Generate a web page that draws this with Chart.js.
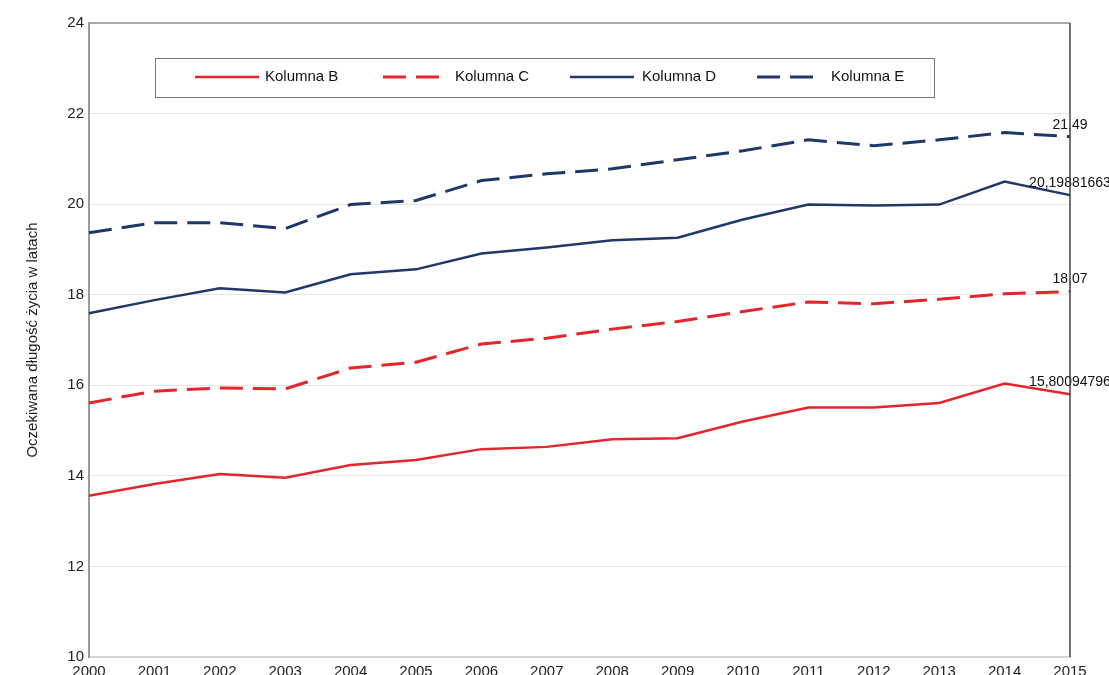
<!DOCTYPE html>
<html>
<head>
<meta charset="utf-8">
<script src="https://cdn.jsdelivr.net/npm/chart.js@4"></script>
<style>
  body { margin:0; background:#fff; }
  #wrap { width:1109px; height:675px; position:relative; }
</style>
</head>
<body>
<div id="wrap"><canvas id="lifeChart"></canvas></div>
<script>
// ─── data ───────────────────────────────────────────────────────────────────
const YEARS = ['2000','2001','2002','2003','2004','2005','2006','2007','2008','2009','2010','2011','2012','2013','2014','2015'];
const KOLUMNA_B = [13.56,13.82,14.04,13.96,14.24,14.35,14.59,14.64,14.81,14.83,15.20,15.51,15.51,15.61,16.04,15.80094796];
const KOLUMNA_C = [15.61,15.87,15.94,15.92,16.38,16.51,16.91,17.04,17.24,17.41,17.63,17.84,17.80,17.90,18.02,18.07];
const KOLUMNA_D = [17.59,17.88,18.14,18.05,18.45,18.56,18.91,19.04,19.20,19.26,19.66,19.99,19.97,19.99,20.50,20.19881663];
const KOLUMNA_E = [19.37,19.59,19.59,19.46,19.99,20.08,20.52,20.67,20.78,20.98,21.18,21.42,21.29,21.42,21.58,21.49];
const Y_TICKS = [10,12,14,16,18,20,22,24];

const RED  = '#e3262b';
const NAVY = '#1f3868';
const DASH = [23, 10];
const FONT = '"Liberation Sans", Arial, sans-serif';

function pl(v) { return String(v).replace('.', ','); }

// ── end-of-line value labels ────────────────────────────────────────────────
const endLabels = {
  id: 'endLabels',
  afterDatasetsDraw(chart) {
    const ctx = chart.ctx;
    ctx.save();
    ctx.font = '14px ' + FONT;
    ctx.fillStyle = '#111';
    ctx.textAlign = 'center';
    ctx.textBaseline = 'middle';
    chart.data.datasets.forEach((ds, i) => {
      const pts = chart.getDatasetMeta(i).data;
      const p = pts[pts.length - 1];
      ctx.fillText(pl(ds.data[ds.data.length - 1]), p.x, p.y - 12);
    });
    ctx.restore();
  }
};

// ── frame (top + right) and boxed legend ────────────────────────────────────
const frameLegend = {
  id: 'frameLegend',
  afterDraw(chart) {
    const ctx = chart.ctx, a = chart.chartArea;
    ctx.save();
    ctx.lineWidth = 2;
    ctx.strokeStyle = '#aaa';
    ctx.beginPath(); ctx.moveTo(a.left, a.top); ctx.lineTo(a.right, a.top); ctx.stroke();
    ctx.strokeStyle = '#444';
    ctx.lineWidth = 1.5;
    ctx.beginPath(); ctx.moveTo(a.right, a.top); ctx.lineTo(a.right, a.bottom); ctx.stroke();

    // legend box
    ctx.fillStyle = '#fff';
    ctx.fillRect(155, 58, 779, 39);
    ctx.strokeStyle = '#777';
    ctx.lineWidth = 1;
    ctx.strokeRect(155.5, 58.5, 779, 39);
    const xs = [195, 383, 570, 757];
    const tx = [265, 455, 642, 831];
    ctx.font = '15px ' + FONT;
    ctx.textBaseline = 'middle';
    ctx.textAlign = 'left';
    chart.data.datasets.forEach((ds, i) => {
      ctx.strokeStyle = ds.borderColor;
      ctx.lineWidth = ds.borderWidth;
      ctx.setLineDash(ds.borderDash || []);
      ctx.beginPath(); ctx.moveTo(xs[i], 77); ctx.lineTo(xs[i] + 64, 77); ctx.stroke();
      ctx.setLineDash([]);
      ctx.fillStyle = '#111';
      ctx.fillText(ds.label, tx[i], 77);
    });
    ctx.restore();
  }
};

new Chart(document.getElementById('lifeChart'), {
  type: 'line',
  data: {
    labels: YEARS,
    datasets: [
      { label:'Kolumna B', data:KOLUMNA_B, borderColor:RED,  borderWidth:2.5 },
      { label:'Kolumna C', data:KOLUMNA_C, borderColor:RED,  borderWidth:3, borderDash:DASH },
      { label:'Kolumna D', data:KOLUMNA_D, borderColor:NAVY, borderWidth:2.5 },
      { label:'Kolumna E', data:KOLUMNA_E, borderColor:NAVY, borderWidth:3, borderDash:DASH }
    ].map(d => Object.assign({ pointRadius:0, tension:0, fill:false }, d))
  },
  options: {
    responsive:true, maintainAspectRatio:false, animation:false,
    layout: { padding: { left:0, right:39, top:23, bottom:0 } },
    plugins: { legend:{display:false}, tooltip:{enabled:false} },
    scales: {
      x: {
        offset:false,
        grid:{ display:false, drawTicks:false },
        border:{ display:true, color:'#d6d6d6', width:2 },
        ticks:{ color:'#222', font:{ family:FONT, size:15 }, padding:6, maxRotation:0, autoSkip:false },
        afterFit(s) { s.height = 18; }
      },
      y: {
        min:10, max:24,
        afterBuildTicks(s) { s.ticks = Y_TICKS.map(v => ({ value:v })); },
        grid:{
          drawTicks:false,
          color: c => c.tick && c.tick.value === 24 ? '#aaa' : (c.tick && c.tick.value === 10 ? '#d6d6d6' : '#e6e6e6'),
          lineWidth: 1
        },
        border:{ display:true, color:'#999', width:2 },
        ticks:{ color:'#222', font:{ family:FONT, size:15 }, padding:5 },
        title:{ display:true, text:'Oczekiwana długość życia w latach', color:'#222',
                font:{ family:FONT, size:15 }, padding:{ top:24, bottom:0 } },
        afterFit(s) { s.width = 89; }
      }
    }
  },
  plugins: [endLabels, frameLegend]
});
</script>
</body>
</html>
